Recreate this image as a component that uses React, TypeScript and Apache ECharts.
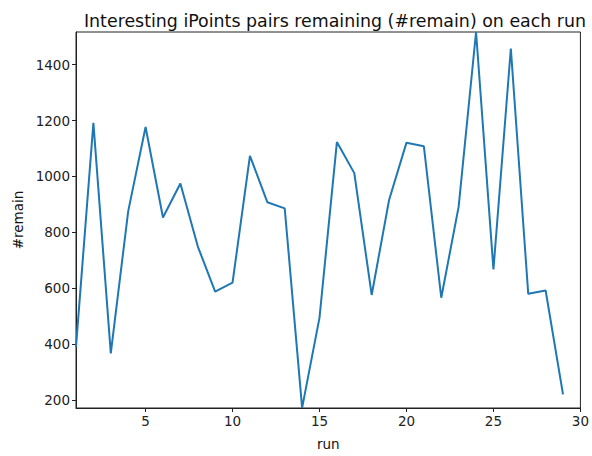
import React, { useEffect, useRef } from "react";
import * as echarts from "echarts";

const runs = [1,2,3,4,5,6,7,8,9,10,11,12,13,14,15,16,17,18,19,20,21,22,23,24,25,26,27,28,29];
const remain = [390,1192,367,875,1177,853,975,750,588,620,1074,908,886,172,495,1123,1012,576,916,1121,1108,566,892,1517,667,1458,580,592,220];
const xTicks = [5,10,15,20,25,30];
const yTicks = [200,400,600,800,1000,1200,1400];

export default function App() {
  const ref = useRef<HTMLDivElement>(null);
  useEffect(() => {
    const chart = echarts.init(ref.current!, null, { renderer: "svg" });
    const font = "DejaVu Sans";
    const axisColor = "#222";
    chart.setOption({
      animation: false,
      backgroundColor: "#fff",
      title: {
        text: "Interesting iPoints pairs remaining (#remain) on each run",
        left: 330, top: 7, textAlign: "center",
        textStyle: { fontFamily: font, fontSize: 17.4, fontWeight: "normal", color: "#111" },
      },
      grid: { left: 76, right: 8, top: 32, bottom: 45, show: true, borderColor: axisColor, borderWidth: 1, backgroundColor: "transparent" },
      xAxis: {
        type: "value", min: 1, max: 30,
        name: "run", nameLocation: "middle", nameGap: 29,
        nameTextStyle: { fontFamily: font, fontSize: 13.5, color: "#111" },
        axisLine: { show: true, lineStyle: { color: axisColor } },
        axisTick: { show: true, customValues: xTicks, length: 4, lineStyle: { color: axisColor } },
        axisLabel: { customValues: xTicks, fontFamily: font, fontSize: 13.5, color: "#222", margin: 6, formatter: (v: number) => String(v) },
        splitLine: { show: false },
      },
      yAxis: {
        type: "value", min: 171.5, max: 1517,
        name: "#remain", nameLocation: "middle", nameGap: 50, nameRotate: 90,
        nameTextStyle: { fontFamily: font, fontSize: 13.5, color: "#111" },
        axisLine: { show: true, lineStyle: { color: axisColor } },
        axisTick: { show: true, customValues: yTicks, length: 4, lineStyle: { color: axisColor } },
        axisLabel: { customValues: yTicks, fontFamily: font, fontSize: 13.5, color: "#222", margin: 6, formatter: (v: number) => String(v) },
        splitLine: { show: false },
      },
      series: [{
        type: "line",
        data: runs.map((r, i) => [r, remain[i]]),
        showSymbol: false,
        lineStyle: { color: "#1f77b4", width: 2 },
        clip: true,
      }],
    });
    return () => chart.dispose();
  }, []);
  return <div ref={ref} style={{ position: "fixed", left: 0, top: 0, width: 592, height: 456 }} />;
}
